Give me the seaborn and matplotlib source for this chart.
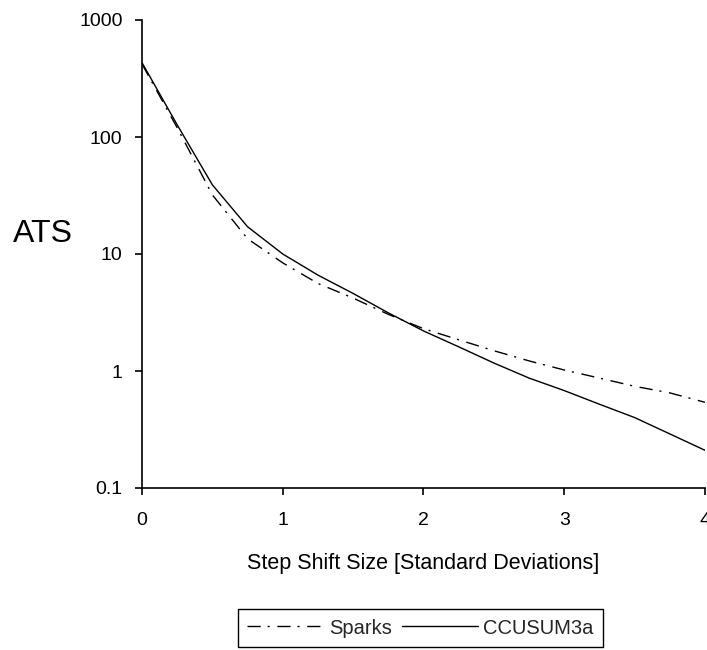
import matplotlib
matplotlib.use("Agg")
import matplotlib.pyplot as plt
import seaborn as sns
import pandas as pd

# Step shift sizes (standard deviations)
shift = [0, 0.25, 0.5, 0.75, 1, 1.25, 1.5, 1.75, 2, 2.25, 2.5, 2.75, 3, 3.25, 3.5, 3.75, 4]

# Average time to signal for each scheme
ats_sparks = [420, 120, 32, 13.5, 8.4, 5.6, 4.2, 3.05, 2.3, 1.85, 1.49, 1.22, 1.02, 0.87, 0.74, 0.65, 0.54]
ats_ccusum = [432, 127, 39, 17.1, 10, 6.6, 4.6, 3.14, 2.2, 1.61, 1.17, 0.87, 0.68, 0.52, 0.40, 0.29, 0.21]

y_ticks = [0.1, 1, 10, 100, 1000]
y_tick_labels = ["0.1", "1", "10", "100", "1000"]
x_ticks = [0, 1, 2, 3, 4]

sns.set_theme(style="white")
plt.rcParams["font.family"] = ["Liberation Sans", "DejaVu Sans"]

fig = plt.figure(figsize=(7.07, 6.5), dpi=100)
ax = fig.add_axes([142 / 707, 1 - 488 / 650, (705 - 142) / 707, (488 - 20) / 650])

df = pd.DataFrame({"shift": shift, "Sparks": ats_sparks, "CCUSUM3a": ats_ccusum})

sns.lineplot(data=df, x="shift", y="Sparks", ax=ax, color="black", linewidth=1.0,
             linestyle=(0, (9.5, 5.0, 1.5, 5.5)), label="Sparks")
sns.lineplot(data=df, x="shift", y="CCUSUM3a", ax=ax, color="black", linewidth=1.0,
             linestyle="-", label="CCUSUM3a")

ax.set_yscale("log")
ax.set_ylim(0.1, 1000)
ax.set_xlim(0, 4)
ax.set_yticks(y_ticks)
ax.set_yticklabels(y_tick_labels)
ax.set_xticks(x_ticks)
ax.set_xticklabels([str(v) for v in x_ticks])
ax.minorticks_off()

for side in ("top", "right"):
    ax.spines[side].set_visible(False)
for side in ("left", "bottom"):
    ax.spines[side].set_color("black")
    ax.spines[side].set_linewidth(1.2)

ax.tick_params(axis="both", which="major", direction="out", length=5, width=1.2,
               color="black", labelsize=14, labelcolor="black", bottom=True, left=True)
ax.tick_params(axis="y", pad=9)
ax.tick_params(axis="x", pad=12)

ax.set_xlabel("Step Shift Size [Standard Deviations]", fontsize=15.5, color="black")
ax.xaxis.set_label_coords(0.5, (488 - 553) / 468)
ax.set_ylabel("ATS", fontsize=23, rotation=0, color="black", ha="center", va="center")
ax.yaxis.set_label_coords((43 - 142) / 563, (488 - 234) / 468)

ax.get_legend().remove()
handles, labels = ax.get_legend_handles_labels()
leg = fig.legend(handles, labels, loc="center", ncol=2,
                 bbox_to_anchor=(420.5 / 707, 1 - 628 / 650),
                 fontsize=14.5, frameon=True, fancybox=False, framealpha=1,
                 edgecolor="black", handlelength=3.8, handletextpad=0.25,
                 columnspacing=0.5, borderpad=0.45)
leg.get_frame().set_linewidth(1.0)

fig.savefig("out.png", dpi=100, facecolor="white")
